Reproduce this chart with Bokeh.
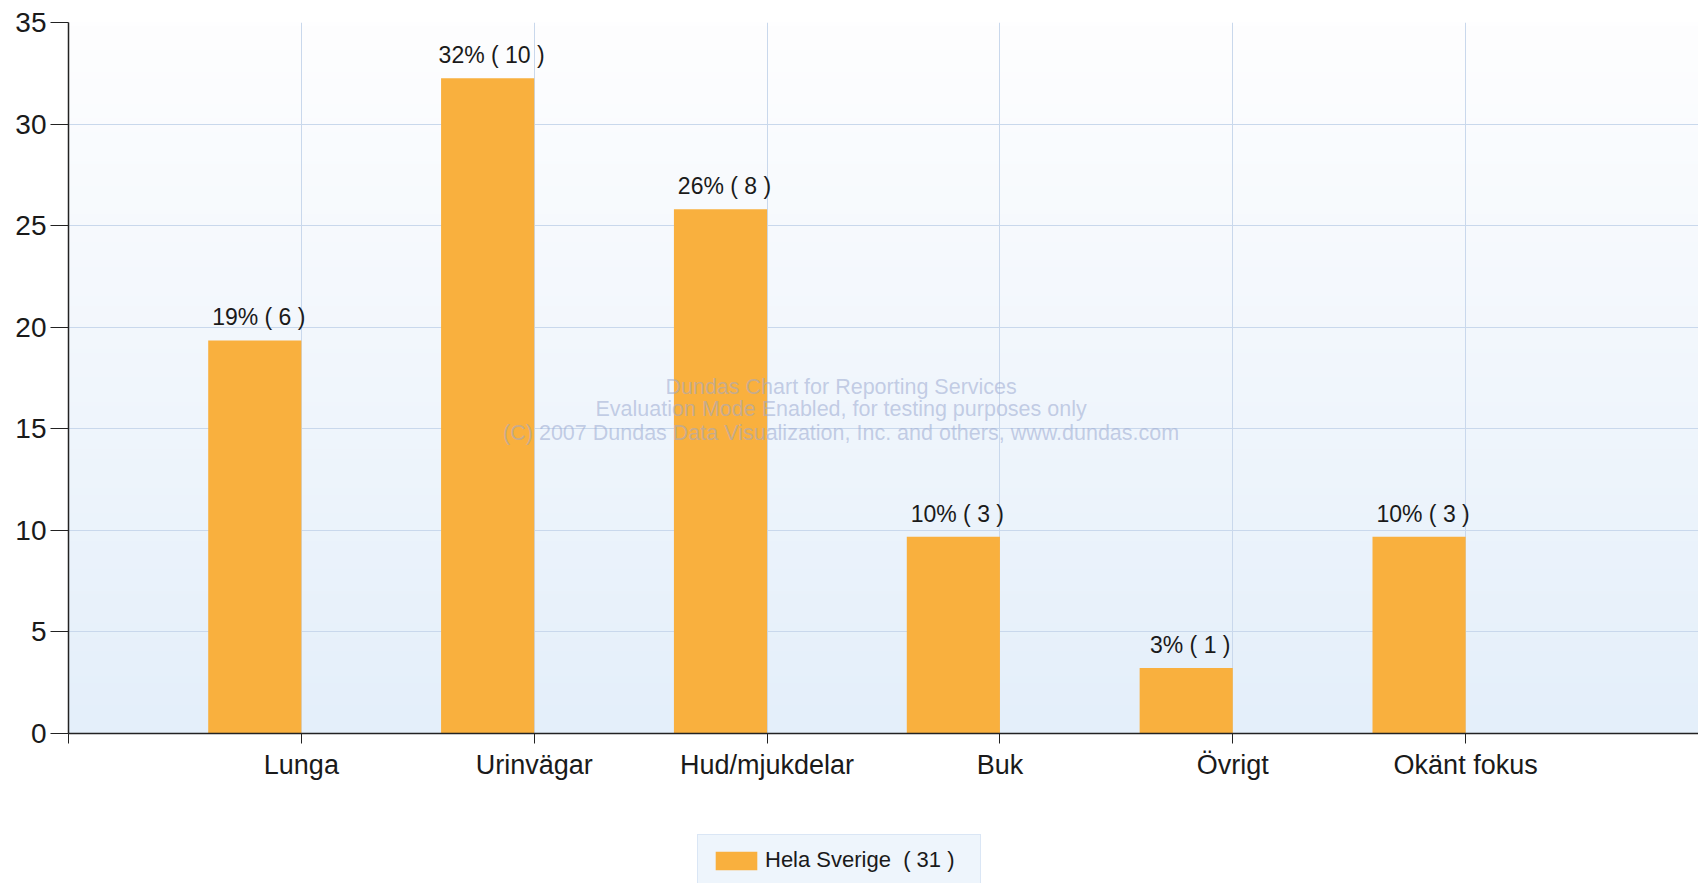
import numpy as np
from bokeh.plotting import figure
from bokeh.layouts import column
from bokeh.models import (Range1d, FixedTicker, Legend, LegendItem, Label, ColumnDataSource)
from bokeh.core.properties import value
from bokeh.embed import file_html
from bokeh.resources import INLINE

# ---- data ----
categories = ["Lunga", "Urinvägar", "Hud/mjukdelar", "Buk", "Övrigt", "Okänt fokus"]
percent = [19.35, 32.26, 25.81, 9.68, 3.23, 9.68]
counts = [6, 10, 8, 3, 1, 3]
series_name = "Hela Sverige"
series_total = 31
y_ticks = [0, 5, 10, 15, 20, 25, 30, 35]
watermark = ["Dundas Chart for Reporting Services",
             "Evaluation Mode Enabled, for testing purposes only",
             "(C) 2007 Dundas Data Visualization, Inc. and others, www.dundas.com"]

FONT = "Liberation Sans"
BAR = "#F9B03E"
GRID = "#c9d8ec"
AXIS = "#222222"

n = len(categories)
tick_pos = [i + 1 for i in range(n)]
bar_x = [t - 0.2 for t in tick_pos]
labels = [f"{round(p)}% ( {c} )" for p, c in zip(percent, counts)]

src = ColumnDataSource(dict(x=bar_x, top=percent, lab=labels))

p = figure(width=1698, height=790, output_backend="svg", toolbar_location=None,
           x_range=Range1d(0, 7), y_range=Range1d(0, 35),
           min_border_left=68, min_border_right=0, min_border_top=22, min_border_bottom=57)
p.background_fill_color = "white"
p.border_fill_color = "white"
p.outline_line_color = None

# gradient background of the plot area
H = 200
grad = np.zeros((H, 2), dtype=np.uint32)
view = grad.view(dtype=np.uint8).reshape((H, 2, 4))
top_c = np.array([254, 254, 255])
bot_c = np.array([228, 239, 250])
for r in range(H):
    t = r / (H - 1)  # r=0 is bottom
    c = bot_c * (1 - t) + top_c * t
    view[r, :, 0] = int(c[0]); view[r, :, 1] = int(c[1]); view[r, :, 2] = int(c[2]); view[r, :, 3] = 255
p.image_rgba(image=[grad], x=0, y=0, dw=7, dh=35, level="image")

# bars
r = p.vbar(x="x", top="top", width=0.4, bottom=0, source=src, fill_color=BAR, line_color=None)

# value labels
p.text(x="x", y="top", text="lab", source=src, text_align="center", text_baseline="alphabetic",
       y_offset=-23, x_offset=4, text_font=value(FONT), text_font_size="23px", text_color="#1a1a1a")

# watermark
wm_y = [17.08, 15.95, 14.77]
for line, yy in zip(watermark, wm_y):
    p.add_layout(Label(x=3.318, y=yy, text=line, text_align="center", text_baseline="middle",
                       text_font=FONT, text_font_size="21.5px", text_color="#9aa8d0", text_alpha=0.55))

# axes
p.xaxis.ticker = FixedTicker(ticks=[0] + tick_pos + [7])
p.xaxis.major_label_overrides = {t: c for t, c in zip(tick_pos, categories)} | {0: "", 7: ""}
p.xaxis.major_tick_out = 10
p.xaxis.major_tick_in = 0
p.xaxis.minor_tick_line_color = None
p.xaxis.axis_line_color = AXIS
p.xaxis.axis_line_width = 1.5
p.xaxis.major_tick_line_color = AXIS
p.xaxis.major_label_text_font = FONT
p.xaxis.major_label_text_font_size = "27px"
p.xaxis.major_label_text_color = "#1a1a1a"
p.xaxis.major_label_standoff = 6

p.yaxis.ticker = FixedTicker(ticks=y_ticks)
p.yaxis.major_tick_out = 18
p.yaxis.major_tick_in = 0
p.yaxis.minor_tick_line_color = None
p.yaxis.axis_line_color = AXIS
p.yaxis.axis_line_width = 1.5
p.yaxis.major_tick_line_color = AXIS
p.yaxis.major_label_text_font = FONT
p.yaxis.major_label_text_font_size = "28px"
p.yaxis.major_label_text_color = "#1a1a1a"
p.yaxis.major_label_standoff = 4

p.xgrid.grid_line_color = GRID
p.ygrid.grid_line_color = GRID
p.xgrid.grid_line_width = 1
p.ygrid.grid_line_width = 1

# legend strip (separate small figure under the chart); its bars sit outside its range
lf = figure(width=1698, height=93, output_backend="svg", toolbar_location=None,
            x_range=Range1d(100, 101), y_range=Range1d(100, 101),
            min_border_left=0, min_border_right=0, min_border_top=0, min_border_bottom=0)
lf.axis.visible = False
lf.grid.visible = False
lf.outline_line_color = None
lf.background_fill_color = "white"
lf.border_fill_color = "white"
lr = lf.vbar(x="x", top="top", width=0.4, source=src, fill_color=BAR, line_color=None)

legend = Legend(items=[LegendItem(label=f"{series_name}  ( {series_total} )", renderers=[lr])],
                location=(629, -3), orientation="horizontal",
                glyph_width=52, glyph_height=23, label_standoff=3, padding=12,
                label_width=203,
                label_text_font=FONT, label_text_font_size="22px", label_text_color="#1a1a1a",
                background_fill_color="#eef5fc", background_fill_alpha=1,
                border_line_color="#c5d8ee", border_line_width=1, margin=0)
lf.add_layout(legend, "center")

layout = column(p, lf, spacing=0)
open("out.html", "w").write(file_html(layout, INLINE))
